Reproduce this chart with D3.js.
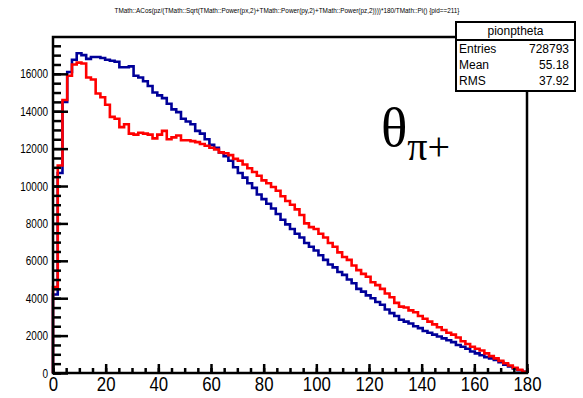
<!DOCTYPE html>
<html>
<head>
<meta charset="utf-8">
<script src="https://d3js.org/d3.v7.min.js"></script>
<style>
body {margin:0;background:#fff;}
svg {display:block;font-family:"Liberation Sans",Arial,sans-serif;}
.axis path {display:none;}
.axis line {stroke:#000;stroke-width:2.5;}
.ylab text {font-size:12.5px;}
.xlab text {font-size:21px;}
</style>
</head>
<body>
<svg id="chart" width="583" height="398"></svg>
<script>
// theta of pi+ in degrees, 100 bins from 0 to 180
var binEdges = d3.range(0, 180.001, 1.8)
var blueCounts = [4200,10700,14500,16100,16750,17100,17000,16800,16900,16900,
  16850,16750,16700,16650,16350,16350,16400,15900,15800,15600,
  15350,15000,14850,14700,14400,14100,13950,13600,13450,13300,
  12950,12800,12500,12200,12050,11800,11600,11350,11000,10700,
  10450,10150,9900,9550,9300,9050,8800,8500,8200,7950,
  7700,7450,7250,6950,6750,6550,6300,6050,5800,5650,
  5400,5250,5000,4800,4500,4350,4150,4000,3800,3650,
  3400,3200,3050,2850,2750,2650,2500,2400,2250,2150,
  2050,1950,1850,1750,1650,1500,1400,1300,1150,1050,
  950,850,780,700,580,450,350,250,150,60]
var redCounts = [4600,11100,14600,15900,16500,16600,16550,15800,15700,14950,
  14750,14350,13700,13600,13150,13300,12800,12750,12850,12800,
  12750,12550,12750,12950,12500,12600,12700,12450,12450,12400,
  12350,12250,12150,12050,11950,11800,11750,11650,11450,11350,
  11150,10950,10750,10550,10300,10150,9950,9750,9450,9200,
  9000,8750,8450,8000,7800,7700,7450,7250,6950,6750,
  6450,6200,6050,5750,5500,5300,5150,4850,4700,4500,
  4250,4050,3750,3550,3500,3350,3250,3050,2900,2750,
  2600,2450,2300,2150,2050,1900,1700,1550,1400,1300,
  1200,1050,900,780,650,520,400,280,170,70]
var xTicks = [0,20,40,60,80,100,120,140,160,180]
var yTicks = [0,2000,4000,6000,8000,10000,12000,14000,16000]
var statsRows = [["Entries","728793"],["Mean","55.18"],["RMS","37.92"]]
var histName = "pionptheta"
var plotTitle = "TMath::ACos(pz/(TMath::Sqrt(TMath::Power(px,2)+TMath::Power(py,2)+TMath::Power(pz,2))))*180/TMath::Pi() {pid==211}"

var svg = d3.select("#chart")
var frameL = 53, frameR = 527, frameT = 37, frameB = 373

var x = d3.scaleLinear().domain([0,180]).range([frameL,frameR])
var y = d3.scaleLinear().domain([0,17970]).range([frameB,frameT])

svg.append("text").attr("x", 287).attr("y", 13).attr("text-anchor","middle")
  .attr("font-size", 8).attr("textLength", 345).attr("lengthAdjust","spacingAndGlyphs")
  .text(plotTitle)

// ROOT style step outline
var stepLine = function(counts) {
  var pts = [[x(0), y(0)]]
  counts.forEach(function(c, i) {
    pts.push([x(binEdges[i]), y(c)])
    pts.push([x(binEdges[i+1]), y(c)])
  })
  pts.push([x(180), y(0)])
  return d3.line()(pts)
}
svg.append("path").attr("d", stepLine(blueCounts)).attr("fill","none")
  .attr("stroke","#000099").attr("stroke-width",2.6)
svg.append("path").attr("d", stepLine(redCounts)).attr("fill","none")
  .attr("stroke","#ff0000").attr("stroke-width",2.6)

// ticks pointing inward
svg.append("g").attr("class","axis").attr("transform","translate("+frameL+",0)")
  .call(d3.axisLeft(y).tickValues(d3.range(0,17970,500)).tickSize(-8).tickFormat(""))
svg.append("g").attr("class","axis ylab").attr("transform","translate("+frameL+",0)")
  .call(d3.axisLeft(y).tickValues(yTicks).tickSize(-15).tickPadding(5).tickFormat(d3.format("d")))
  .selectAll("text").attr("x", 0).attr("transform","translate(-5,0) scale(0.8,1)")
svg.append("g").attr("class","axis").attr("transform","translate(0,"+frameB+")")
  .call(d3.axisBottom(x).tickValues(d3.range(0,181,5)).tickSize(-5).tickFormat(""))
svg.append("g").attr("class","axis xlab").attr("transform","translate(0,"+frameB+")")
  .call(d3.axisBottom(x).tickValues(xTicks).tickSize(-9).tickPadding(3).tickFormat(d3.format("d")))
  .selectAll("text").attr("transform","scale(0.8,1)")

svg.append("rect").attr("x",frameL).attr("y",frameT).attr("width",frameR-frameL).attr("height",frameB-frameT)
  .attr("fill","none").attr("stroke","#000").attr("stroke-width",2.5)

// theta label
var lab = svg.append("text").attr("x",381).attr("y",146)
  .attr("font-family","'Liberation Serif','DejaVu Serif',serif")
lab.append("tspan").attr("font-size",55).text("\u03b8")
lab.append("tspan").attr("font-size",40).attr("dy",14).text("\u03c0+")

// stats box
var sx = 456, sw = 119
svg.append("rect").attr("x",sx).attr("y",22).attr("width",sw).attr("height",18)
  .attr("fill","#fff").attr("stroke","#000").attr("stroke-width",2)
svg.append("text").attr("x",sx+sw/2).attr("y",35).attr("text-anchor","middle")
  .attr("font-size",12).text(histName)
svg.append("rect").attr("x",sx).attr("y",40).attr("width",sw).attr("height",51)
  .attr("fill","#fff").attr("stroke","#000").attr("stroke-width",2)
statsRows.forEach(function(r, i) {
  svg.append("text").attr("x",sx+3).attr("y",53+i*16).attr("font-size",12).text(r[0])
  svg.append("text").attr("x",sx+sw-6).attr("y",53+i*16).attr("font-size",12)
    .attr("text-anchor","end").text(r[1])
})
</script>
</body>
</html>
